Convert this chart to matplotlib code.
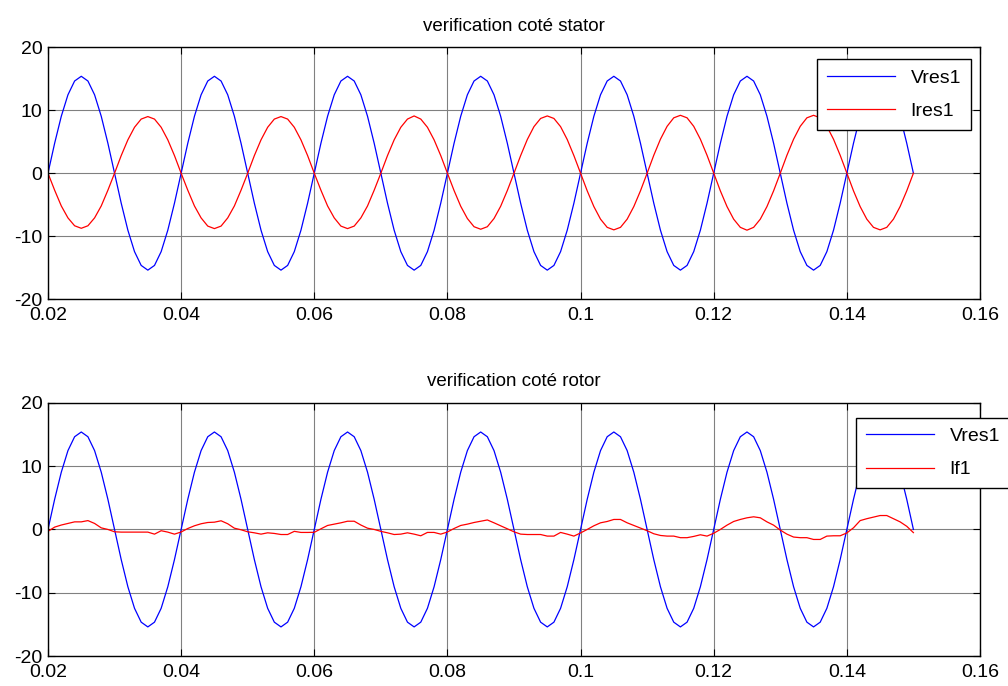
import matplotlib
matplotlib.use("Agg")
import matplotlib.pyplot as plt
import numpy as np

plt.rcParams['font.family'] = ['Liberation Sans', 'DejaVu Sans']
plt.rcParams['axes.unicode_minus'] = False

# temps : échantillons de 1 ms de 0.02 à 0.15 s
t = np.round(np.arange(20, 151) / 1000.0, 3)

vres1 = [
    0, 4.76, 9.05, 12.46, 14.65, 15.4, 14.65, 12.46, 9.05, 4.76,
    0, -4.76, -9.05, -12.46, -14.65, -15.4, -14.65, -12.46, -9.05, -4.76,
    0, 4.76, 9.05, 12.46, 14.65, 15.4, 14.65, 12.46, 9.05, 4.76,
    0, -4.76, -9.05, -12.46, -14.65, -15.4, -14.65, -12.46, -9.05, -4.76,
    0, 4.76, 9.05, 12.46, 14.65, 15.4, 14.65, 12.46, 9.05, 4.76,
    0, -4.76, -9.05, -12.46, -14.65, -15.4, -14.65, -12.46, -9.05, -4.76,
    0, 4.76, 9.05, 12.46, 14.65, 15.4, 14.65, 12.46, 9.05, 4.76,
    0, -4.76, -9.05, -12.46, -14.65, -15.4, -14.65, -12.46, -9.05, -4.76,
    0, 4.76, 9.05, 12.46, 14.65, 15.4, 14.65, 12.46, 9.05, 4.76,
    0, -4.76, -9.05, -12.46, -14.65, -15.4, -14.65, -12.46, -9.05, -4.76,
    0, 4.76, 9.05, 12.46, 14.65, 15.4, 14.65, 12.46, 9.05, 4.76,
    0, -4.76, -9.05, -12.46, -14.65, -15.4, -14.65, -12.46, -9.05, -4.76,
    0, 4.76, 9.05, 12.46, 14.65, 15.4, 14.65, 12.46, 9.05, 4.76,
    0,
]

ires1 = [
    0, -2.7, -5.2, -7.1, -8.35, -8.75, -8.35, -7.1, -5.2, -2.7,
    0, 2.8, 5.3, 7.3, 8.6, 9.0, 8.6, 7.3, 5.3, 2.8,
    0, -2.7, -5.2, -7.1, -8.4, -8.8, -8.4, -7.1, -5.2, -2.7,
    0, 2.8, 5.3, 7.3, 8.6, 9.0, 8.6, 7.3, 5.3, 2.8,
    0, -2.7, -5.2, -7.1, -8.4, -8.8, -8.4, -7.1, -5.2, -2.7,
    0, 2.8, 5.3, 7.3, 8.6, 9.1, 8.6, 7.3, 5.3, 2.8,
    0, -2.75, -5.25, -7.2, -8.5, -8.9, -8.5, -7.2, -5.25, -2.75,
    0, 2.8, 5.35, 7.4, 8.7, 9.1, 8.7, 7.4, 5.35, 2.8,
    0, -2.8, -5.3, -7.3, -8.6, -9.0, -8.6, -7.3, -5.3, -2.8,
    0, 2.85, 5.4, 7.45, 8.8, 9.2, 8.8, 7.45, 5.4, 2.85,
    0, -2.8, -5.3, -7.3, -8.6, -9.05, -8.6, -7.3, -5.3, -2.8,
    0, 2.85, 5.4, 7.45, 8.8, 9.2, 8.8, 7.45, 5.4, 2.85,
    0, -2.8, -5.3, -7.3, -8.6, -9.0, -8.6, -7.3, -5.3, -2.8,
    0,
]

if1 = [
    -0.3, 0.37, 0.7, 0.95, 1.2, 1.2, 1.4, 0.95, 0.25, 0.0,
    -0.37, -0.42, -0.42, -0.42, -0.42, -0.42, -0.74, -0.2, -0.42, -0.74,
    -0.4, 0.15, 0.58, 0.9, 1.1, 1.15, 1.37, 0.9, 0.2, -0.05,
    -0.37, -0.53, -0.74, -0.53, -0.63, -0.8, -0.8, -0.3, -0.47, -0.47,
    -0.45, 0.1, 0.63, 0.84, 1.05, 1.3, 1.3, 0.7, 0.2, 0.0,
    -0.3, -0.53, -0.8, -0.74, -0.53, -0.74, -1.0, -0.47, -0.47, -0.74,
    -0.4, 0.15, 0.63, 0.84, 1.1, 1.3, 1.5, 1.05, 0.58, 0.1,
    -0.37, -0.74, -0.8, -0.8, -0.8, -1.05, -1.05, -0.47, -0.74, -1.05,
    -0.55, 0.0, 0.58, 1.05, 1.26, 1.58, 1.58, 1.05, 0.63, 0.2,
    -0.2, -0.68, -0.95, -1.05, -1.05, -1.3, -1.3, -1.1, -0.84, -1.05,
    -0.6, 0.0, 0.68, 1.26, 1.58, 1.84, 2.0, 1.84, 1.2, 0.68,
    -0.1, -0.74, -1.2, -1.3, -1.3, -1.58, -1.58, -1.05, -1.0, -1.0,
    -0.55, 0.26, 1.4, 1.7, 1.95, 2.2, 2.2, 1.7, 1.2, 0.5,
    -0.5,
]

xticks = [0.02, 0.04, 0.06, 0.08, 0.1, 0.12, 0.14, 0.16]
xlabels = ["0.02", "0.04", "0.06", "0.08", "0.1", "0.12", "0.14", "0.16"]
yticks = [-20, -10, 0, 10, 20]

fig = plt.figure(figsize=(10.08, 6.86), dpi=100)
ax1 = fig.add_axes([0.0476, 0.564, 0.9246, 0.367])
ax2 = fig.add_axes([0.0476, 0.0437, 0.9246, 0.369])


def style(ax, title):
    ax.set_xlim(0.02, 0.16)
    ax.set_ylim(-20, 20)
    ax.set_xticks(xticks)
    ax.set_xticklabels(xlabels)
    ax.set_yticks(yticks)
    ax.tick_params(direction='in', top=True, right=True, labelsize=14,
                   length=5, width=0.8)
    ax.tick_params(axis='x', pad=6)
    ax.tick_params(axis='y', pad=4)
    ax.grid(True, color='#808080', linewidth=0.8)
    for sp in ax.spines.values():
        sp.set_linewidth(1.0)
    ax.set_title(title, fontsize=13.5, pad=12)


def legend(ax, anchor):
    leg = ax.legend(loc='upper right', bbox_to_anchor=anchor, fontsize=14,
                    fancybox=False, edgecolor='black', framealpha=1,
                    handlelength=3.5, handletextpad=0.8, borderpad=0.5,
                    labelspacing=0.8, borderaxespad=0)
    leg.get_frame().set_linewidth(1.0)


ax1.plot(t, vres1, color='#0000ff', linewidth=0.9, label='Vres1')
ax1.plot(t, ires1, color='#ff0000', linewidth=0.9, label='Ires1')
style(ax1, "verification coté stator")
legend(ax1, (0.990, 0.952))

ax2.plot(t, vres1, color='#0000ff', linewidth=0.9, label='Vres1')
ax2.plot(t, if1, color='#ff0000', linewidth=0.9, label='If1')
style(ax2, "verification coté rotor")
legend(ax2, (1.032, 0.941))

fig.savefig("out.png", dpi=100)
